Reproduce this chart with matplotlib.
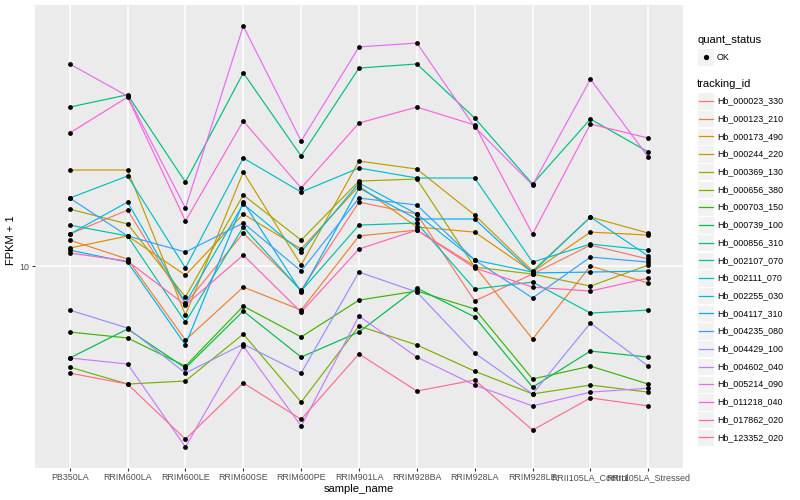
import matplotlib
matplotlib.use("Agg")
import matplotlib.pyplot as plt
from matplotlib.patches import Rectangle
from matplotlib.lines import Line2D
from matplotlib.ticker import NullLocator
import numpy as np

plt.rcParams['font.family'] = ['Liberation Sans', 'DejaVu Sans']

samples = ["PB350LA", "RRIM600LA", "RRIM600LE", "RRIM600SE", "RRIM600PE", "RRIM901LA",
           "RRIM928BA", "RRIM928LA", "RRIM928LE", "RRII105LA_Control", "RRII105LA_Stressed"]

tracking_ids = ["Hb_000023_330", "Hb_000123_210", "Hb_000173_490", "Hb_000244_220",
                "Hb_000369_130", "Hb_000656_380", "Hb_000703_150", "Hb_000739_100",
                "Hb_000856_310", "Hb_002107_070", "Hb_002111_070", "Hb_002255_030",
                "Hb_004117_310", "Hb_004235_080", "Hb_004429_100", "Hb_004602_040",
                "Hb_005214_090", "Hb_011218_040", "Hb_017862_020", "Hb_123352_020"]

colors = ["#F8766D", "#EA8331", "#D89000", "#C09B00", "#A3A500", "#7CAE00", "#39B600",
          "#00BB4E", "#00BF7D", "#00C1A3", "#00BFC4", "#00BAE0", "#00B0F6", "#35A2FF",
          "#9590FF", "#C77CFF", "#E76BF3", "#FA62DB", "#FF62BC", "#FF6C91"]

# FPKM + 1 per sample
hb_000023_330 = [12.02, 13.80, 8.04, 12.09, 8.71, 14.45, 13.49, 8.18, 9.55, 11.28, 10.41]
hb_000123_210 = [11.61, 10.41, 6.53, 8.86, 7.76, 11.89, 12.30, 10.0, 6.57, 10.0, 9.07]
hb_000173_490 = [11.09, 11.89, 9.49, 13.49, 11.03, 15.85, 12.52, 12.16, 9.66, 12.16, 11.95]
hb_000244_220 = [17.38, 17.38, 7.54, 17.18, 10.06, 18.30, 17.48, 13.41, 9.72, 13.26, 12.09]
hb_000369_130 = [13.88, 12.74, 8.37, 15.05, 11.61, 16.31, 16.50, 9.94, 9.55, 8.91, 10.06]
hb_000656_380 = [5.59, 5.07, 5.16, 6.76, 4.57, 7.08, 6.35, 5.46, 4.79, 5.04, 4.84]
hb_000703_150 = [6.84, 6.61, 5.62, 7.94, 6.65, 8.22, 8.66, 7.81, 5.22, 5.62, 5.07]
hb_000739_100 = [5.89, 6.96, 5.56, 7.72, 5.92, 6.84, 8.81, 7.46, 4.98, 6.13, 5.92]
hb_000856_310 = [24.97, 26.8, 16.22, 30.4, 18.84, 31.26, 32.0, 23.44, 16.03, 23.31, 19.28]
hb_002107_070 = [12.66, 11.89, 7.24, 12.52, 8.66, 12.66, 12.81, 8.76, 9.12, 7.63, 7.76]
hb_002111_070 = [14.79, 16.79, 9.89, 18.62, 15.31, 17.58, 16.60, 16.60, 10.23, 11.35, 10.96]
hb_002255_030 = [12.02, 14.45, 8.08, 14.29, 10.84, 16.13, 13.49, 10.35, 9.66, 13.26, 10.59]
hb_004117_310 = [10.96, 10.23, 6.35, 14.45, 8.61, 15.67, 13.11, 13.11, 9.61, 9.66, 9.72]
hb_004235_080 = [14.79, 11.89, 10.84, 12.81, 9.72, 14.79, 14.21, 10.35, 8.32, 10.53, 10.23]
hb_004429_100 = [7.76, 7.00, 5.40, 6.38, 5.40, 9.66, 8.61, 6.06, 4.79, 7.20, 5.62]
hb_004602_040 = [5.89, 5.69, 3.53, 6.31, 3.98, 7.50, 5.92, 5.04, 4.47, 4.84, 4.95]
hb_005214_090 = [32.0, 26.6, 13.96, 39.81, 20.54, 35.3, 36.1, 22.26, 15.94, 29.3, 18.73]
hb_011218_040 = [21.50, 26.45, 12.96, 23.04, 15.67, 22.78, 24.97, 22.52, 12.02, 22.65, 20.89]
hb_017862_020 = [10.78, 10.29, 7.99, 10.65, 7.67, 11.03, 12.30, 9.89, 8.86, 8.66, 9.33]
hb_123352_020 = [5.40, 5.07, 3.69, 5.10, 4.14, 6.03, 4.87, 5.19, 3.89, 4.68, 4.47]

series = [hb_000023_330, hb_000123_210, hb_000173_490, hb_000244_220, hb_000369_130,
          hb_000656_380, hb_000703_150, hb_000739_100, hb_000856_310, hb_002107_070,
          hb_002111_070, hb_002255_030, hb_004117_310, hb_004235_080, hb_004429_100,
          hb_004602_040, hb_005214_090, hb_011218_040, hb_017862_020, hb_123352_020]

W, H = 800, 500
fig = plt.figure(figsize=(8, 5), dpi=100)
fig.patch.set_facecolor("white")
ax = fig.add_axes([35 / W, 1 - 468 / H, 648 / W, 463 / H])
ax.set_facecolor("#EBEBEB")

xpos = np.arange(len(samples))
for vals, c in zip(series, colors):
    ax.plot(xpos, vals, color=c, lw=0.85, zorder=2, solid_capstyle="round")
for vals in series:
    ax.scatter(xpos, vals, s=12, color="black", marker="o", linewidths=0, zorder=3)

ax.set_yscale("log")
allv = np.log10(np.concatenate([np.array(v) for v in series]))
lo, hi = allv.min(), allv.max()
pad = 0.05 * (hi - lo)
ax.set_ylim(10 ** (lo - pad), 10 ** (hi + pad))
ax.set_xlim(-0.6, len(samples) - 0.4)

ax.set_yticks([10])
ax.set_yticklabels(["10"])
ax.yaxis.set_minor_locator(NullLocator())
ax.set_xticks(xpos)
ax.set_xticklabels(samples)
ax.grid(True, which="major", color="white", lw=1.1, zorder=0)
ax.set_axisbelow(True)
for s in ax.spines.values():
    s.set_visible(False)
ax.tick_params(axis="both", colors="#333333", length=2.2, width=0.8, labelsize=6.4,
               labelcolor="#4D4D4D", pad=1.6)


def fx(px):
    return px / W


def fy(py):
    return 1 - py / H


# axis titles
fig.text(fx(359), fy(489), "sample_name", fontsize=8, ha="center", va="center")
fig.text(fx(11), fy(240), "FPKM + 1", fontsize=8, rotation=90, ha="center", va="center")

# Legend (drawn in figure pixel coordinates)
key = 17.3
kx = 697
fig.text(fx(kx), fy(40), "quant_status", fontsize=8, va="center", ha="left")
fig.add_artist(Rectangle((fx(kx), fy(57 + key / 2)), key / W, key / H,
                         transform=fig.transFigure, facecolor="#F2F2F2", edgecolor="white", lw=0.8))
fig.add_artist(Line2D([fx(kx + key / 2)], [fy(57)], transform=fig.transFigure,
                      marker="o", ms=2.8, color="black", lw=0))
fig.text(fx(717), fy(57), "OK", fontsize=6.4, va="center", ha="left")

fig.text(fx(kx), fy(84), "tracking_id", fontsize=8, va="center", ha="left")
step = 17.7
for i, (tid, c) in enumerate(zip(tracking_ids, colors)):
    cy = 101 + i * step
    fig.add_artist(Rectangle((fx(kx), fy(cy + key / 2)), key / W, key / H,
                             transform=fig.transFigure, facecolor="#F2F2F2",
                             edgecolor="white", lw=0.8))
    fig.add_artist(Line2D([fx(kx + 1.7), fx(kx + key - 1.7)], [fy(cy), fy(cy)],
                          transform=fig.transFigure, color=c, lw=0.9))
    fig.text(fx(717), fy(cy), tid, fontsize=6.4, va="center", ha="left")

fig.savefig("out.png", dpi=100)
